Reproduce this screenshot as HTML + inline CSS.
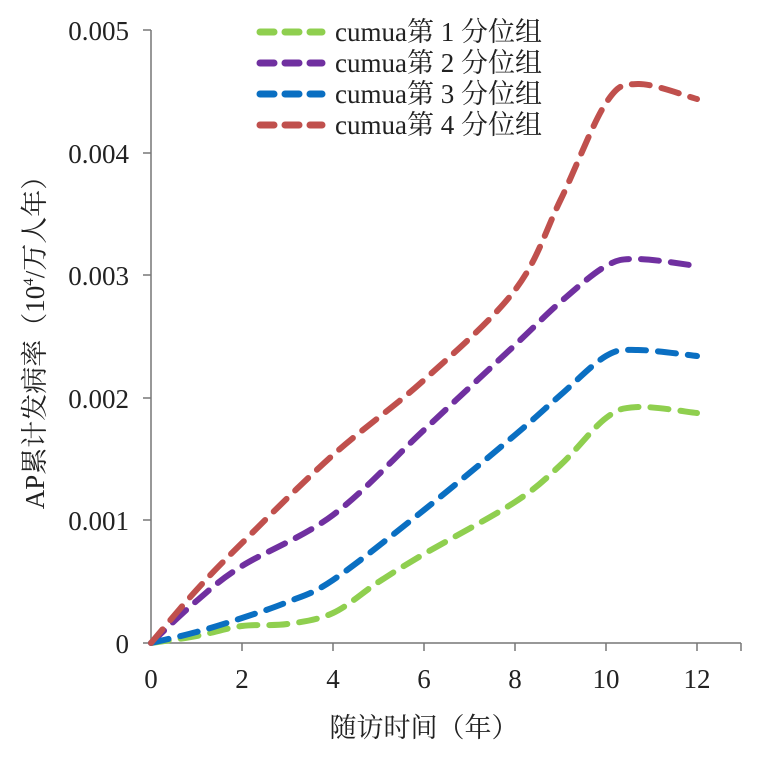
<!DOCTYPE html>
<html><head><meta charset="utf-8"><style>
html,body{margin:0;padding:0;background:#fff;}
svg{display:block;}
text{font-family:"Liberation Serif","Noto Serif CJK SC",serif;fill:#222;}
</style></head><body>
<svg id="s" width="768" height="763" viewBox="0 0 768 763" xmlns="http://www.w3.org/2000/svg">
<g stroke="#777" stroke-width="1.5" fill="none">
<line x1="151" y1="30" x2="151" y2="643"/>
<line x1="151" y1="643" x2="741" y2="643"/>
<line x1="143" y1="30" x2="151" y2="30"/>
<line x1="143" y1="153" x2="151" y2="153"/>
<line x1="143" y1="275" x2="151" y2="275"/>
<line x1="143" y1="398" x2="151" y2="398"/>
<line x1="143" y1="520" x2="151" y2="520"/>
<line x1="143" y1="643" x2="151" y2="643"/>
<line x1="242" y1="643" x2="242" y2="651"/>
<line x1="333" y1="643" x2="333" y2="651"/>
<line x1="424" y1="643" x2="424" y2="651"/>
<line x1="515" y1="643" x2="515" y2="651"/>
<line x1="606" y1="643" x2="606" y2="651"/>
<line x1="697" y1="643" x2="697" y2="651"/>
<line x1="741" y1="643" x2="741" y2="651"/>
</g>
<g font-size="27" text-anchor="end">
<text x="129" y="40">0.005</text>
<text x="129" y="163">0.004</text>
<text x="129" y="285">0.003</text>
<text x="129" y="408">0.002</text>
<text x="129" y="530">0.001</text>
<text x="129" y="653">0</text>
</g>
<g font-size="27" text-anchor="middle">
<text x="151" y="688">0</text>
<text x="242" y="688">2</text>
<text x="333" y="688">4</text>
<text x="424" y="688">6</text>
<text x="515" y="688">8</text>
<text x="606" y="688">10</text>
<text x="697" y="688">12</text>
</g>
<text x="424" y="737" font-size="27" text-anchor="middle">随访时间（年）</text>
<text transform="translate(44,336) rotate(-90)" font-size="27" text-anchor="middle">AP累计发病率（10<tspan font-size="15" dy="-11">4</tspan><tspan dy="11">/万人年）</tspan></text>
<g id="curves" fill="none" stroke-width="6" stroke-linecap="round" stroke-dasharray="18 12"></g>
<g stroke-width="7" stroke-linecap="round" stroke-dasharray="14 11">
<line x1="260" y1="32" x2="322" y2="32" stroke="#8fcf4f"/>
<line x1="260" y1="63" x2="322" y2="63" stroke="#7030a0"/>
<line x1="260" y1="94" x2="322" y2="94" stroke="#0a6fc2"/>
<line x1="260" y1="125" x2="322" y2="125" stroke="#c0504d"/>
</g>
<g font-size="27">
<text x="335" y="41">cumua第 1 分位组</text>
<text x="335" y="72">cumua第 2 分位组</text>
<text x="335" y="103">cumua第 3 分位组</text>
<text x="335" y="134">cumua第 4 分位组</text>
</g>
</svg>
<script>
var X=function(t){return 151+45.5*t;};
var data=[
["#8fcf4f",[[0,643],[1,636],[2,626],[3,624],[4,613],[5,582],[6,554],[8,502],[9,465],[10,418],[10.7,407],[12,413]]],
["#7030a0",[[0,643],[1,601],[2,566],[4,515],[6,430],[8,345],[9,302],[10,266],[10.7,259],[12,266]]],
["#0a6fc2",[[0,643],[1,632],[2,618],[3,602],[4,580],[6,510],[8,435],[9,395],[10,356],[10.7,350],[12,356]]],
["#c0504d",[[0,643],[1,590],[2,543],[4,455],[6,380],[8,290],[9,200],[10,103],[10.7,84],[12,99]]]
];
var g=document.getElementById("curves");
data.forEach(function(d){
 var p=d[1].map(function(a){return [X(a[0]),a[1]];});
 var s="M"+p[0][0]+","+p[0][1];
 for(var i=0;i<p.length-1;i++){
  var p0=p[Math.max(i-1,0)],p1=p[i],p2=p[i+1],p3=p[Math.min(i+2,p.length-1)];
  var c1=[p1[0]+(p2[0]-p0[0])/6,p1[1]+(p2[1]-p0[1])/6];
  var c2=[p2[0]-(p3[0]-p1[0])/6,p2[1]-(p3[1]-p1[1])/6];
  s+=" C"+c1+" "+c2+" "+p2;
 }
 var e=document.createElementNS("http://www.w3.org/2000/svg","path");
 e.setAttribute("d",s);e.setAttribute("stroke",d[0]);g.appendChild(e);
});
</script>
</body></html>
